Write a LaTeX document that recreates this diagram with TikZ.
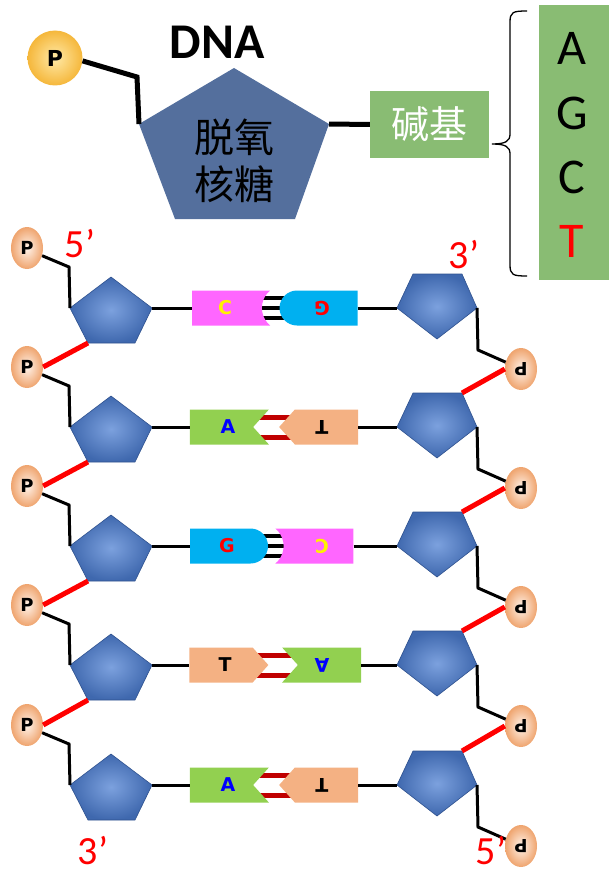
\documentclass[tikz,border=0pt]{standalone}
\usepackage{fontspec}
\setmainfont{Carlito}
\newfontfamily\cjk{Noto Sans CJK SC}
\newfontfamily\heavy{DejaVu Sans}
\usepackage{graphicx}
\usetikzlibrary{shapes.geometric,shapes.misc,shapes.symbols,backgrounds}

\definecolor{sugartop}{HTML}{546F9D}
\definecolor{sugarhi}{HTML}{7CA1DE}
\definecolor{sugarlo}{HTML}{3F68AE}
\definecolor{sugarline}{HTML}{2F528F}
\definecolor{basegreen}{HTML}{89BC73}
\definecolor{phoshi}{HTML}{FFF3EA}
\definecolor{phoslo}{HTML}{EFA46E}
\definecolor{goldhi}{HTML}{FFE9A6}
\definecolor{goldlo}{HTML}{F5B73B}
\definecolor{cyt}{HTML}{FF66FF}
\definecolor{gua}{HTML}{00B0F0}
\definecolor{ade}{HTML}{92D050}
\definecolor{thy}{HTML}{F4B183}
\definecolor{hbond}{HTML}{C00000}

\newcommand{\flip}[1]{\rotatebox{180}{#1}}

\begin{document}
\begin{tikzpicture}[x=1pt,y=-1pt,
    bond/.style={line width=3pt},
    link/.style={line width=5pt,red},
    phos/.style={ellipse,inner sep=0pt,minimum width=32pt,minimum height=42pt,
      inner color=phoshi,outer color=phoslo,font=\heavy\bfseries\fontsize{18}{18}\selectfont},
    sugar/.style={draw=sugarline,line width=0.6pt,inner color=sugarhi,outer color=sugarlo},
    base/.style={inner sep=0pt,minimum height=35pt},
    letter/.style={inner sep=0pt,font=\heavy\bfseries\fontsize{19}{19}\selectfont},
    cbase/.style={base,rounded rectangle,fill=cyt,rounded rectangle arc length=100,minimum width=78pt},
    gbase/.style={base,rounded rectangle,fill=gua,minimum width=78pt},
    abase/.style={base,signal,fill=ade,signal pointer angle=96,minimum width=79pt},
    tbase/.style={base,signal,fill=thy,signal pointer angle=96,minimum width=79pt},
    prime/.style={inner sep=0pt,text=red,font=\fontsize{40}{40}\selectfont}]
  \useasboundingbox (0,0) rectangle (609,872);

  % nucleotide
  \node[circle,minimum size=55pt,inner sep=0pt,inner color=goldhi,outer color=goldlo,
    font=\heavy\bfseries\fontsize{22}{22}\selectfont] (phosTop) at (55,58) {P};
  \node[font=\bfseries\fontsize{50}{50}\selectfont] (dnaTitle) at (217,42) {DNA};
  \coordinate (stT) at (234,68);
  \coordinate (stUL) at (139,124);
  \coordinate (stUR) at (329,124);
  \coordinate (stLR) at (295,219);
  \coordinate (stLL) at (175,219);
  \fill[sugartop] (stT) -- (stUR) -- (stLR) -- (stLL) -- (stUL) -- cycle;
  \node[align=center,font=\cjk\fontsize{40}{47}\selectfont] (sugarText) at (234,161) {脱氧\\核糖};
  \coordinate (bendTop) at (137,77);
  \draw[line width=5pt] (phosTop.-6) -- (bendTop) -- (stUL);
  \node[fill=basegreen,minimum width=119pt,minimum height=67pt,inner sep=0pt,text=white,
    font=\cjk\fontsize{38}{38}\selectfont] (baseBox) at (429.5,124.5) {碱基};
  \draw[line width=5pt] (stUR) -- (baseBox.west);

  \node[fill=basegreen,minimum width=70pt,minimum height=275pt,inner sep=0pt] (baseList) at (574,142.5) {};
  \foreach \l/\yy/\c in {A/48/black,G/113/black,C/177/black,T/241/red}
    \node[text=\c,font=\fontsize{50}{50}\selectfont] (letter\l) at (572,\yy) {\l};
  \draw[line width=1.3pt] (527,11) .. controls (513,11) and (510,12) .. (510,22) -- (510,134)
    .. controls (510,141) and (506,144) .. (492,144) .. controls (506,144) and (510,147) .. (510,154)
    -- (510,265) .. controls (510,275) and (513,276) .. (527,276);

  % backbones
  \foreach \r/\y in {1/308,2/427,3/546,4/665,5/785}{
    \node[phos] (pL\r) at (27,\y-60) {P};
    \node[phos] (pR\r) at (521,\y+61) {\flip{P}};
    \coordinate (sL\r-t) at (111,\y-31);
    \coordinate (sL\r-ur) at (152,\y);
    \coordinate (sL\r-br) at (135,\y+35);
    \coordinate (sL\r-bl) at (88,\y+35);
    \coordinate (sL\r-ul) at (70,\y);
    \coordinate (sR\r-tl) at (413,\y-34);
    \coordinate (sR\r-tr) at (462,\y-34);
    \coordinate (sR\r-r) at (477,\y);
    \coordinate (sR\r-b) at (437,\y+31);
    \coordinate (sR\r-l) at (397,\y);
    \path[sugar] (sL\r-t) -- (sL\r-ur) -- (sL\r-br) -- (sL\r-bl) -- (sL\r-ul) -- cycle;
    \path[sugar] (sR\r-tl) -- (sR\r-tr) -- (sR\r-r) -- (sR\r-b) -- (sR\r-l) -- cycle;
    \coordinate (kL\r) at (69,\y-41);
    \coordinate (kR\r) at (478,\y+42);
    \draw[bond] (pL\r.-27) -- (kL\r) -- (sL\r-ul);
    \draw[bond] (sR\r-r) -- (kR\r) -- (pR\r.156);
  }
  \foreach \r/\s in {1/2,2/3,3/4,4/5}{
    \draw[link] (sL\r-bl) -- (pL\s.east);
    \draw[link] (sR\s-tr) -- (pR\r.west);
  }

  % base pairs
  \node[cbase,rounded rectangle west arc=none,rounded rectangle east arc=concave] (b1L) at (227,308) {};
  \node[gbase,rounded rectangle west arc=convex,rounded rectangle east arc=none] (b1R) at (318.5,308) {};
  \node[abase,signal to=nowhere,signal from=east] (b2L) at (221.5,427) {};
  \node[tbase,signal to=west] (b2R) at (326.5,427) {};
  \node[gbase,rounded rectangle west arc=none,rounded rectangle east arc=convex] (b3L) at (229,546) {};
  \node[cbase,rounded rectangle west arc=concave,rounded rectangle east arc=none] (b3R) at (318.5,546) {};
  \node[tbase,signal to=east] (b4L) at (221,665) {};
  \node[abase,signal to=nowhere,signal from=west] (b4R) at (329.5,665) {};
  \node[abase,signal to=nowhere,signal from=east] (b5L) at (221.5,785) {};
  \node[tbase,signal to=west] (b5R) at (326.5,785) {};
  \begin{scope}[on background layer]
    \foreach \r in {1,3}
      \foreach \d in {-10,0,10}
        \draw[line width=4pt] ([yshift=\d pt]b\r L.center) -- ([yshift=\d pt]b\r R.center);
    \foreach \r in {2,4,5}
      \foreach \d in {-10,10}
        \draw[line width=5pt,hbond] ([yshift=\d pt]b\r L.center) -- ([yshift=\d pt]b\r R.center);
  \end{scope}
  \foreach \r in {1,...,5}{
    \draw[bond] (sL\r-ur) -- (b\r L.west);
    \draw[bond] (b\r R.east) -- (sR\r-l);
  }
  \node[letter,text=yellow] (t1L) at (225,308) {C};
  \node[letter,text=red] (t1R) at (322,308) {\flip{G}};
  \node[letter,text=blue] (t2L) at (228,427) {A};
  \node[letter] (t2R) at (322,427) {\flip{T}};
  \node[letter,text=red] (t3L) at (227,546) {G};
  \node[letter,text=yellow] (t3R) at (322,546) {\flip{C}};
  \node[letter] (t4L) at (225,665) {T};
  \node[letter,text=blue] (t4R) at (322,665) {\flip{A}};
  \node[letter,text=blue] (t5L) at (228,785) {A};
  \node[letter] (t5R) at (322,785) {\flip{T}};

  \node[prime] (end5L) at (80,244) {5’};
  \node[prime] (end3R) at (464,255) {3’};
  \node[prime] (end3L) at (93,851) {3’};
  \node[prime] (end5R) at (491,851) {5’};
\end{tikzpicture}
\end{document}
